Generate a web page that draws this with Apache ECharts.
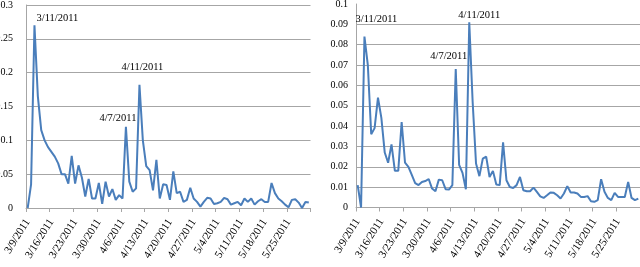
<!DOCTYPE html>
<html>
<head>
<meta charset="utf-8">
<script src="https://cdn.jsdelivr.net/npm/echarts@6/dist/echarts.min.js"></script>
<style>
html,body{margin:0;padding:0;background:#fff;}
#c{width:640px;height:267px;background:#fff;}
</style>
</head>
<body>
<div id="c"></div>
<script>
const dates = [
"3/9/2011","3/10/2011","3/11/2011","3/12/2011","3/13/2011","3/14/2011","3/15/2011","3/16/2011","3/17/2011","3/18/2011",
"3/19/2011","3/20/2011","3/21/2011","3/22/2011","3/23/2011","3/24/2011","3/25/2011","3/26/2011","3/27/2011","3/28/2011",
"3/29/2011","3/30/2011","3/31/2011","4/1/2011","4/2/2011","4/3/2011","4/4/2011","4/5/2011","4/6/2011","4/7/2011",
"4/8/2011","4/9/2011","4/10/2011","4/11/2011","4/12/2011","4/13/2011","4/14/2011","4/15/2011","4/16/2011","4/17/2011",
"4/18/2011","4/19/2011","4/20/2011","4/21/2011","4/22/2011","4/23/2011","4/24/2011","4/25/2011","4/26/2011","4/27/2011",
"4/28/2011","4/29/2011","4/30/2011","5/1/2011","5/2/2011","5/3/2011","5/4/2011","5/5/2011","5/6/2011","5/7/2011",
"5/8/2011","5/9/2011","5/10/2011","5/11/2011","5/12/2011","5/13/2011","5/14/2011","5/15/2011","5/16/2011","5/17/2011",
"5/18/2011","5/19/2011","5/20/2011","5/21/2011","5/22/2011","5/23/2011","5/24/2011","5/25/2011","5/26/2011","5/27/2011",
"5/28/2011","5/29/2011","5/30/2011","5/31/2011"
];

const leftValues = [
0, 0.035, 0.27, 0.165, 0.115, 0.1, 0.09, 0.083, 0.076, 0.066,
0.05, 0.05, 0.036, 0.077, 0.036, 0.063, 0.045, 0.017, 0.043, 0.014,
0.014, 0.037, 0.006, 0.039, 0.017, 0.028, 0.012, 0.019, 0.014, 0.12,
0.039, 0.024, 0.029, 0.182, 0.1, 0.062, 0.056, 0.026, 0.071, 0.014,
0.035, 0.034, 0.012, 0.054, 0.022, 0.024, 0.009, 0.012, 0.03, 0.014,
0.009, 0.002, 0.009, 0.015, 0.014, 0.006, 0.007, 0.009, 0.015, 0.013,
0.005, 0.007, 0.009, 0.004, 0.014, 0.009, 0.014, 0.005, 0.01, 0.013,
0.009, 0.009, 0.037, 0.022, 0.014, 0.01, 0.005, 0.001, 0.012, 0.013,
0.008, 0, 0.009, 0.008
];

const rightValues = [
0.011, 0, 0.084, 0.07, 0.036, 0.039, 0.054, 0.044, 0.027, 0.022,
0.031, 0.018, 0.018, 0.042, 0.022, 0.02, 0.016, 0.012, 0.011, 0.0125,
0.013, 0.014, 0.0093, 0.008, 0.0137, 0.0134, 0.009, 0.0088, 0.011, 0.068,
0.021, 0.017, 0.009, 0.091, 0.052, 0.0216, 0.0154, 0.024, 0.025, 0.015,
0.018, 0.0113, 0.011, 0.032, 0.0134, 0.0101, 0.0096, 0.011, 0.015, 0.0085,
0.008, 0.008, 0.0098, 0.0077, 0.0055, 0.0047, 0.006, 0.0074, 0.0072, 0.006,
0.0044, 0.0069, 0.0105, 0.0074, 0.0074, 0.0069, 0.0052, 0.0052, 0.0056, 0.0031,
0.0028, 0.0036, 0.0139, 0.0077, 0.0047, 0.0036, 0.0072, 0.0052, 0.0052, 0.0052,
0.0126, 0.0047, 0.0036, 0.0044
];

const annotatedDates = ["3/11/2011", "4/7/2011", "4/11/2011"];
const leftLabelOffsets = [[23, -7], [-8, -9], [3, -18]];
const rightLabelOffsets = [[12, -17], [-7, -13], [10, -7]];

const FONT = "'Liberation Serif', 'DejaVu Serif', serif";
const GRID_COLOR = '#a6a6a6';
const LINE_COLOR = '#4a7ebb';

function marks(values, offsets) {
  return annotatedDates.map(function (d, k) {
    const idx = dates.indexOf(d);
    return {
      coord: [d, values[idx]],
      label: { formatter: d, offset: offsets[k] }
    };
  });
}

function xAxis(gi) {
  return {
    type: 'category', gridIndex: gi, data: dates, boundaryGap: true,
    axisLine: { lineStyle: { color: GRID_COLOR, width: 1 } },
    axisTick: { show: true, interval: 6, length: 4, lineStyle: { color: GRID_COLOR } },
    axisLabel: { interval: 6, rotate: 58, margin: 12, fontFamily: FONT, fontSize: 11, color: '#000' },
    splitLine: { show: false }
  };
}

function yAxis(gi, max, step, margin) {
  const split = { show: true, lineStyle: { color: GRID_COLOR, width: 1 } };
  if (gi === 1) { split.showMaxLine = false; }
  return {
    type: 'value', gridIndex: gi, min: 0, max: max, interval: step,
    axisLine: { show: true, lineStyle: { color: GRID_COLOR, width: 1 } },
    axisTick: { show: false },
    axisLabel: { margin: margin, fontFamily: FONT, fontSize: 10, color: '#000' },
    splitLine: split
  };
}

function lineSeries(gi, values, offsets) {
  return {
    type: 'line', xAxisIndex: gi, yAxisIndex: gi, data: values,
    symbol: 'none', smooth: false,
    lineStyle: { color: LINE_COLOR, width: 2 },
    itemStyle: { color: LINE_COLOR },
    markPoint: {
      symbol: 'circle', symbolSize: 1,
      itemStyle: { color: 'transparent' },
      label: { show: true, position: 'inside', fontFamily: FONT, fontSize: 10.5, color: '#000' },
      data: marks(values, offsets)
    }
  };
}

const chart = echarts.init(document.getElementById('c'), null, { renderer: 'canvas' });
chart.setOption({
  animation: false,
  grid: [
    { left: 26, top: 5, width: 284.5, height: 203, outerBoundsMode: 'none' },
    { left: 356, top: 4, width: 284, height: 203.5, outerBoundsMode: 'none' }
  ],
  xAxis: [xAxis(0), xAxis(1)],
  yAxis: [yAxis(0, 0.3, 0.05, 13), yAxis(1, 0.1, 0.01, 8)],
  series: [lineSeries(0, leftValues, leftLabelOffsets), lineSeries(1, rightValues, rightLabelOffsets)]
});
</script>
</body>
</html>
